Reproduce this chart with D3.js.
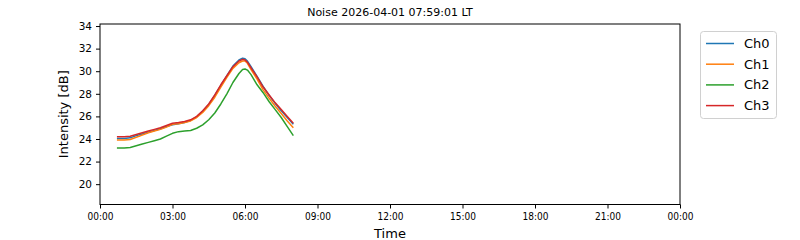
<!DOCTYPE html>
<html><head><meta charset="utf-8">
<script src="https://cdn.jsdelivr.net/npm/d3@7"></script>
<style>body{margin:0;background:#fff;} svg{display:block;}</style>
</head><body>
<svg id="c" width="800" height="240"></svg>
<script>
const title = "Noise 2026-04-01 07:59:01 LT";
const seriesNames = ["Ch0", "Ch1", "Ch2", "Ch3"];
const colors = ["#1f77b4", "#ff7f0e", "#2ca02c", "#d62728"];
const hours = [0.7, 1.0, 1.25, 1.5, 1.75, 2.0, 2.25, 2.5, 2.75, 3.0, 3.25, 3.5, 3.75, 4.0, 4.25, 4.5, 4.75, 5.0, 5.25, 5.5, 5.75, 5.9, 6.0, 6.1, 6.25, 6.5, 6.75, 7.0, 7.25, 7.5, 7.75, 8.0];
const ch0 = [24.05, 24.05, 24.1, 24.3, 24.45, 24.6, 24.75, 24.9, 25.1, 25.25, 25.35, 25.45, 25.65, 25.95, 26.45, 27.05, 27.85, 28.75, 29.6, 30.45, 31.0, 31.15, 31.1, 30.9, 30.4, 29.55, 28.65, 27.85, 27.15, 26.5, 25.9, 25.3];
const ch1 = [23.9, 23.9, 23.95, 24.15, 24.35, 24.55, 24.7, 24.85, 25.05, 25.3, 25.35, 25.45, 25.6, 25.9, 26.35, 26.95, 27.7, 28.6, 29.45, 30.25, 30.75, 30.9, 30.9, 30.7, 30.15, 29.3, 28.35, 27.6, 26.9, 26.25, 25.6, 25.0];
const ch2 = [23.2, 23.2, 23.25, 23.4, 23.55, 23.7, 23.85, 24.0, 24.25, 24.5, 24.65, 24.7, 24.75, 24.95, 25.25, 25.7, 26.3, 27.1, 28.0, 29.0, 29.8, 30.15, 30.2, 30.1, 29.7, 28.8, 28.1, 27.3, 26.6, 25.9, 25.1, 24.3];
const ch3 = [24.2, 24.2, 24.25, 24.4, 24.55, 24.7, 24.85, 25.0, 25.2, 25.4, 25.45, 25.55, 25.7, 26.0, 26.5, 27.1, 27.9, 28.8, 29.6, 30.4, 30.9, 31.05, 31.0, 30.8, 30.3, 29.5, 28.6, 27.9, 27.2, 26.6, 26.0, 25.4];
const yTicks = [20, 22, 24, 26, 28, 30, 32, 34];

const series = [ch0, ch1, ch2, ch3];
const day0 = new Date(2026, 3, 1, 0, 0, 0);
const toDate = h => new Date(day0.getTime() + h * 3600 * 1000);

const svg = d3.select("#c");
const L = 100, R = 680, T = 24, B = 204.5;
const x = d3.scaleTime().domain([day0, new Date(2026, 3, 2, 0, 0, 0)]).range([L, R]);
const y = d3.scaleLinear().domain([18.2, 34.18]).range([B, T]);

// lines
const line = d3.line().x(d => x(d[0])).y(d => y(d[1]));
series.forEach((s, i) => {
  const pts = hours.map((h, j) => [toDate(h), s[j]]);
  svg.append("path").attr("d", line(pts)).attr("fill", "none")
    .attr("stroke", colors[i]).attr("stroke-width", 1.5).attr("stroke-linejoin", "round");
});

// frame
svg.append("rect").attr("x", L).attr("y", T).attr("width", R - L).attr("height", B - T)
  .attr("fill", "none").attr("stroke", "#000").attr("stroke-width", 1);

// axes
const xAxis = d3.axisBottom(x).ticks(d3.timeHour.every(3)).tickFormat(d3.timeFormat("%H:%M")).tickSize(4).tickPadding(4);
const gx = svg.append("g").attr("transform", `translate(0,${B})`).call(xAxis);
gx.select(".domain").remove();
gx.selectAll("text").attr("font-family", "'DejaVu Sans Condensed', 'DejaVu Sans', sans-serif")
  .style("font-stretch", "condensed").attr("font-size", 10).attr("fill", "#000");

const yAxis = d3.axisLeft(y).tickValues(yTicks).tickSize(4).tickPadding(4);
const gy = svg.append("g").attr("transform", `translate(${L},0)`).call(yAxis);
gy.select(".domain").remove();
gy.selectAll("text").attr("font-family", "'DejaVu Sans', sans-serif").attr("font-size", 10.5).attr("fill", "#000");

// labels
svg.append("text").attr("x", (L + R) / 2).attr("y", 16).attr("text-anchor", "middle")
  .attr("font-family", "'DejaVu Sans', sans-serif").attr("font-size", 11).text(title);
svg.append("text").attr("x", (L + R) / 2).attr("y", 237.5).attr("text-anchor", "middle")
  .attr("font-family", "'DejaVu Sans', sans-serif").attr("font-size", 13).text("Time");
svg.append("text").attr("transform", `translate(67.5,${(T + B) / 2}) rotate(-90)`).attr("text-anchor", "middle")
  .attr("font-family", "'DejaVu Sans', sans-serif").attr("font-size", 13).text("Intensity [dB]");

// legend
const lg = svg.append("g");
lg.append("rect").attr("x", 700.5).attr("y", 31.5).attr("width", 76).attr("height", 87).attr("rx", 3)
  .attr("fill", "#fff").attr("stroke", "#d0d0d0").attr("stroke-width", 1);
seriesNames.forEach((n, i) => {
  const yy = 43.5 + i * 20.7;
  lg.append("line").attr("x1", 706).attr("x2", 734).attr("y1", yy).attr("y2", yy)
    .attr("stroke", colors[i]).attr("stroke-width", 1.5);
  lg.append("text").attr("x", 744).attr("y", yy + 4.5).attr("font-family", "'DejaVu Sans', sans-serif")
    .attr("font-size", 13).text(n);
});
</script>
</body></html>
